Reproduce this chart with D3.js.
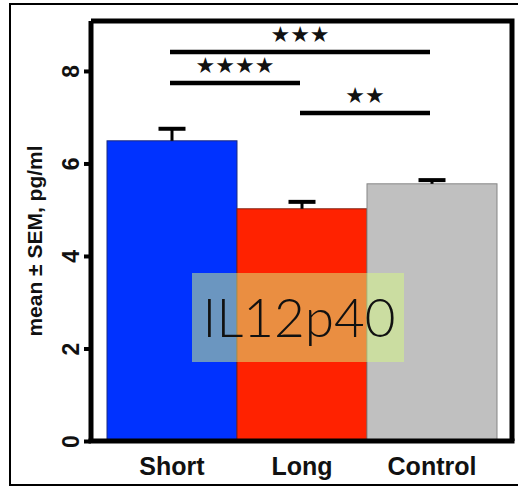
<!DOCTYPE html>
<html>
<head>
<meta charset="utf-8">
<script src="https://cdn.jsdelivr.net/npm/d3@7"></script>
<style>
  body { margin: 0; background: #fff; }
  svg { display: block; }
</style>
</head>
<body>
<div id="chart"></div>
<script>
// values
const groups = ['Short', 'Long', 'Control']
const means = [6.49, 5.02, 5.56]
const sems = [0.26, 0.15, 0.08]
const barColors = ['#0032ff', '#ff2200', '#c0c0c0']
const barStrokes = ['#1a2a80', '#802010', '#858585']
const yTicks = [0, 2, 4, 6, 8]
const yTitle = 'mean \u00b1 SEM, pg/ml'
const overlayLabel = 'IL12p40'

// significance brackets: from group, to group, height (data units), stars
const sigFrom = ['Short', 'Short', 'Long']
const sigTo = ['Control', 'Long', 'Control']
const sigLevel = [8.41, 7.74, 7.09]
const sigStars = [3, 4, 2]

const width = 518
const height = 488
const yTop = 9.08

const svg = d3
  .select('#chart')
  .append('svg')
  .attr('width', width)
  .attr('height', height)

// outer frame of the image
svg
  .append('rect')
  .attr('x', 10)
  .attr('y', 4)
  .attr('width', 540)
  .attr('height', 481)
  .attr('fill', 'none')
  .attr('stroke', '#000')
  .attr('stroke-width', 2)

const x = d3.scaleBand().domain(groups).range([107, 497]).padding(0)
const y = d3.scaleLinear().domain([0, yTop]).range([441, 21])

// bars
svg
  .selectAll('.bar')
  .data(groups)
  .join('rect')
  .attr('class', 'bar')
  .attr('x', d => x(d))
  .attr('y', (d, i) => y(means[i]))
  .attr('width', x.bandwidth())
  .attr('height', (d, i) => y(0) - y(means[i]))
  .attr('fill', (d, i) => barColors[i])
  .attr('stroke', (d, i) => barStrokes[i])
  .attr('stroke-width', 1)

// error bars (upper only)
const err = svg
  .selectAll('.err')
  .data(groups)
  .join('g')
  .attr('class', 'err')
  .attr('transform', d => `translate(${x(d) + x.bandwidth() / 2},0)`)
err
  .append('line')
  .attr('y1', (d, i) => y(means[i]))
  .attr('y2', (d, i) => y(means[i] + sems[i]))
  .attr('stroke', '#000')
  .attr('stroke-width', 3)
err
  .append('line')
  .attr('x1', -13.5)
  .attr('x2', 13.5)
  .attr('y1', (d, i) => y(means[i] + sems[i]))
  .attr('y2', (d, i) => y(means[i] + sems[i]))
  .attr('stroke', '#000')
  .attr('stroke-width', 4)

// plot box (top and right)
svg
  .append('path')
  .attr('d', `M91,${y(yTop)}H512V${y(0)}`)
  .attr('fill', 'none')
  .attr('stroke', '#000')
  .attr('stroke-width', 5)

// y axis
const yAxis = d3.axisLeft(y).tickValues(yTicks).tickSize(7).tickPadding(8)
const gy = svg.append('g').attr('transform', 'translate(91,0)').call(yAxis)
gy.select('.domain')
  .attr('d', `M0,${y(yTop)}V${y(0)}`)
  .attr('stroke-width', 5)
gy.selectAll('.tick line').attr('stroke-width', 4)
gy.selectAll('.tick text')
  .attr('font-family', 'Liberation Sans, Arial, sans-serif')
  .attr('font-weight', 'bold')
  .attr('font-size', 23)
  .attr('fill', '#111')
  .attr('text-anchor', 'middle')
  .attr('dy', null)
  .attr('x', null)
  .attr('transform', 'translate(-12,0) rotate(-90)')
  .attr('y', 0)

// x axis
const xAxis = d3.axisBottom(x).tickSize(0).tickPadding(16)
const gx = svg.append('g').attr('transform', `translate(0,${y(0)})`).call(xAxis)
gx.select('.domain')
  .attr('d', `M88.5,0H514.5`)
  .attr('stroke-width', 5)
gx.selectAll('.tick text')
  .attr('font-family', 'Liberation Sans, Arial, sans-serif')
  .attr('font-weight', 'bold')
  .attr('font-size', 25)
  .attr('fill', '#111')

// y title
svg
  .append('text')
  .attr('transform', `translate(42,${(y(0) + y(yTop)) / 2 + 10}) rotate(-90)`)
  .attr('text-anchor', 'middle')
  .attr('font-family', 'Liberation Sans, Arial, sans-serif')
  .attr('font-weight', 'bold')
  .attr('font-size', 21)
  .attr('fill', '#111')
  .text(yTitle)

// significance brackets
const centre = g => x(g) + x.bandwidth() / 2
const sig = svg
  .selectAll('.sig')
  .data(sigLevel)
  .join('g')
  .attr('class', 'sig')
sig
  .append('line')
  .attr('x1', (d, i) => centre(sigFrom[i]) - 2)
  .attr('x2', (d, i) => centre(sigTo[i]) - 2)
  .attr('y1', d => y(d))
  .attr('y2', d => y(d))
  .attr('stroke', '#000')
  .attr('stroke-width', 4.5)
sig
  .append('text')
  .attr('x', (d, i) => (centre(sigFrom[i]) + centre(sigTo[i])) / 2 - 2)
  .attr('y', d => y(d) - 10)
  .attr('text-anchor', 'middle')
  .attr('font-family', 'DejaVu Sans, sans-serif')
  .attr('font-size', 22)
  .attr('fill', '#111')
  .text((d, i) => '\u2605'.repeat(sigStars[i]))

// overlay label box
svg
  .append('rect')
  .attr('x', 192)
  .attr('y', 273)
  .attr('width', 212)
  .attr('height', 89)
  .attr('fill', 'rgb(214,250,130)')
  .attr('fill-opacity', 0.5)
svg
  .append('text')
  .attr('x', 299)
  .attr('y', 337)
  .attr('text-anchor', 'middle')
  .attr('font-family', 'Lato, Open Sans, sans-serif')
  .attr('font-weight', 300)
  .attr('font-size', 53)
  .attr('fill', '#111')
  .text(overlayLabel)
</script>
</body>
</html>
